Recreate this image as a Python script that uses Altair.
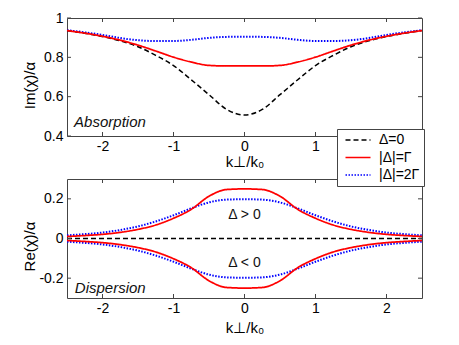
import altair as alt
import pandas as pd

# ---------------- data ----------------
k = [-2.5, -2.25, -2.0, -1.75, -1.5, -1.25, -1.0, -0.75, -0.5, -0.25, 0.0,
     0.25, 0.5, 0.75, 1.0, 1.25, 1.5, 1.75, 2.0, 2.25, 2.5]

# Absorption Im(chi)/alpha
im_d0 = [0.936, 0.922, 0.906, 0.884, 0.854, 0.810, 0.758, 0.686, 0.610, 0.535, 0.507,
         0.535, 0.610, 0.686, 0.758, 0.810, 0.854, 0.884, 0.906, 0.922, 0.936]
im_d1 = [0.936, 0.923, 0.907, 0.887, 0.862, 0.832, 0.801, 0.776, 0.759, 0.756, 0.756,
         0.756, 0.759, 0.776, 0.801, 0.832, 0.862, 0.887, 0.907, 0.923, 0.936]
im_d2 = [0.938, 0.927, 0.914, 0.898, 0.887, 0.883, 0.883, 0.889, 0.899, 0.904, 0.905,
         0.904, 0.899, 0.889, 0.883, 0.883, 0.887, 0.898, 0.914, 0.927, 0.938]

# Dispersion Re(chi)/alpha
re_d0 = [0.0, 0.0, 0.0, 0.0, 0.0, 0.0, 0.0, 0.0, 0.0, 0.0, 0.0,
         0.0, 0.0, 0.0, 0.0, 0.0, 0.0, 0.0, 0.0, 0.0, 0.0]
re_d1_pos = [0.010, 0.015, 0.021, 0.031, 0.046, 0.068, 0.102, 0.147, 0.213, 0.247, 0.250,
             0.247, 0.213, 0.147, 0.102, 0.068, 0.046, 0.031, 0.021, 0.015, 0.010]
re_d1_neg = [-0.010, -0.015, -0.021, -0.031, -0.046, -0.068, -0.102, -0.147, -0.213, -0.247, -0.250,
             -0.247, -0.213, -0.147, -0.102, -0.068, -0.046, -0.031, -0.021, -0.015, -0.010]
re_d2_pos = [0.016, 0.022, 0.030, 0.043, 0.061, 0.086, 0.117, 0.152, 0.182, 0.196, 0.198,
             0.196, 0.182, 0.152, 0.117, 0.086, 0.061, 0.043, 0.030, 0.022, 0.016]
re_d2_neg = [-0.016, -0.022, -0.030, -0.043, -0.061, -0.086, -0.117, -0.152, -0.182, -0.196, -0.198,
             -0.196, -0.182, -0.152, -0.117, -0.086, -0.061, -0.043, -0.030, -0.022, -0.016]

series = ["Δ=0", "|Δ|=Γ", "|Δ|=2Γ"]
colors = ["#000000", "#ff0000", "#0000ff"]
dashes = [[5, 3], [1, 0], [1.5, 1.5]]
widths = [1.5, 2.0, 1.6]

x_ticks = [-2, -1, 0, 1, 2]
top_y_ticks = [0.4, 0.6, 0.8, 1.0]
bot_y_ticks = [-0.2, 0.0, 0.2]

top_notes = pd.DataFrame({"k": [-2.4], "v": [0.47], "t": ["Absorption"]})
bot_notes = pd.DataFrame({"k": [-2.39], "v": [-0.248], "t": ["Dispersion"]})
bot_signs = pd.DataFrame({"k": [0.0, 0.0], "v": [0.12, -0.125], "t": ["Δ > 0", "Δ < 0"]})

# ---------------- style ----------------
W, H_TOP, H_BOT = 355, 118, 119
FONT = "Liberation Sans"
FRAME = "#444444"


def long(curves):
    rows = []
    for s, b, vals in curves:
        for kk, v in zip(k, vals):
            rows.append({"k": kk, "v": v, "series": s, "branch": b})
    return pd.DataFrame(rows)


abs_df = long([(series[2], "a2", im_d2), (series[0], "a0", im_d0), (series[1], "a1", im_d1)])
disp_df = long([(series[2], "d2p", re_d2_pos), (series[2], "d2n", re_d2_neg),
                (series[1], "d1p", re_d1_pos), (series[1], "d1n", re_d1_neg),
                (series[0], "d0", re_d0)])

xs = alt.Scale(domain=[-2.5, 2.5], nice=False, zero=False)


def panel(df, ydom, yticks, H, ytitle, xtitle_y, notes, extra_text, show_legend, xlabel_expr):
    ys = alt.Scale(domain=ydom, nice=False, zero=False)
    if show_legend:
        leg = alt.Legend(orient="none", legendX=270, legendY=-50, title=None,
                         symbolType="M-2.5,0H2.5", symbolSize=100, symbolStrokeWidth=1.6,
                         symbolFillColor="transparent",
                         labelFont=FONT, labelFontSize=14, labelColor="black",
                         labelExpr="datum.label + '     '",
                         padding=4, rowPadding=3.5, fillColor="white", strokeColor=FRAME,
                         cornerRadius=0, symbolOffset=10, labelOffset=14)
    else:
        leg = None
    x_axis = alt.Axis(values=x_ticks, title="k⊥/k₀", titleY=xtitle_y,
                      titleBaseline="alphabetic", labelExpr=xlabel_expr)
    y_axis = alt.Axis(values=yticks, title=ytitle, titleX=-33, titleY=67,
                      titleAngle=270, titleBaseline="alphabetic", titleAlign="center",
                      labelExpr="'' + datum.value")
    lines = alt.Chart(df).mark_line(interpolate="monotone").encode(
        x=alt.X("k:Q", scale=xs, axis=x_axis),
        y=alt.Y("v:Q", scale=ys, axis=y_axis),
        color=alt.Color("series:N", scale=alt.Scale(domain=series, range=colors), legend=leg),
        strokeDash=alt.StrokeDash("series:N", scale=alt.Scale(domain=series, range=dashes), legend=leg),
        strokeWidth=alt.StrokeWidth("series:N", scale=alt.Scale(domain=series, range=widths), legend=None),
        detail="branch:N",
    )
    tx = pd.DataFrame({"k": x_ticks})
    ty = pd.DataFrame({"v": yticks})
    tb = alt.Chart(tx).mark_rule(color=FRAME, strokeWidth=1).encode(
        x=alt.X("k:Q", scale=xs, axis=x_axis), y=alt.value(H), y2=alt.value(H - 4))
    tt = alt.Chart(tx).mark_rule(color=FRAME, strokeWidth=1).encode(
        x=alt.X("k:Q", scale=xs, axis=x_axis), y=alt.value(0), y2=alt.value(4))
    tl = alt.Chart(ty).mark_rule(color=FRAME, strokeWidth=1).encode(
        y=alt.Y("v:Q", scale=ys, axis=y_axis), x=alt.value(0), x2=alt.value(4))
    tr = alt.Chart(ty).mark_rule(color=FRAME, strokeWidth=1).encode(
        y=alt.Y("v:Q", scale=ys, axis=y_axis), x=alt.value(W), x2=alt.value(W - 4))
    note = alt.Chart(notes).mark_text(font=FONT, fontSize=15, fontStyle="italic",
                                      align="left", baseline="middle", color="#111111").encode(
        x=alt.X("k:Q", scale=xs, axis=x_axis), y=alt.Y("v:Q", scale=ys, axis=y_axis), text="t:N")
    layers = [lines, tb, tt, tl, tr, note]
    if extra_text is not None:
        layers.append(alt.Chart(extra_text).mark_text(font=FONT, fontSize=14, align="center",
                                                     baseline="middle", color="#111111").encode(
            x=alt.X("k:Q", scale=xs, axis=x_axis), y=alt.Y("v:Q", scale=ys, axis=y_axis), text="t:N"))
    return alt.layer(*layers).properties(width=W, height=H)


# in the top panel the "2" label sits under the legend box, as in the reference
top = panel(abs_df, [0.4, 1.0], top_y_ticks, H_TOP, "Im(χ)/α", 30, top_notes, None, False,
            "datum.value == 2 ? '' : '' + datum.value")
bot = panel(disp_df, [-0.3, 0.3], bot_y_ticks, H_BOT, "Re(χ)/α", 34, bot_notes, bot_signs, True,
            "'' + datum.value")

chart = alt.vconcat(top, bot, spacing=43, bounds="flush").resolve_legend(
    color="independent", strokeDash="independent"
).properties(
    padding={"left": 13, "top": 2, "right": 5, "bottom": 5}
).configure_view(
    stroke=FRAME, strokeWidth=1
).configure_axis(
    labelFont=FONT, labelFontSize=14, labelColor="black", labelPadding=4,
    titleFont=FONT, titleFontSize=15, titleFontWeight="normal", titleColor="black",
    domain=False, ticks=False, grid=False
).configure_axisX(labelPadding=3)

chart.save("out.html", embed_options={"renderer": "svg", "actions": False})
